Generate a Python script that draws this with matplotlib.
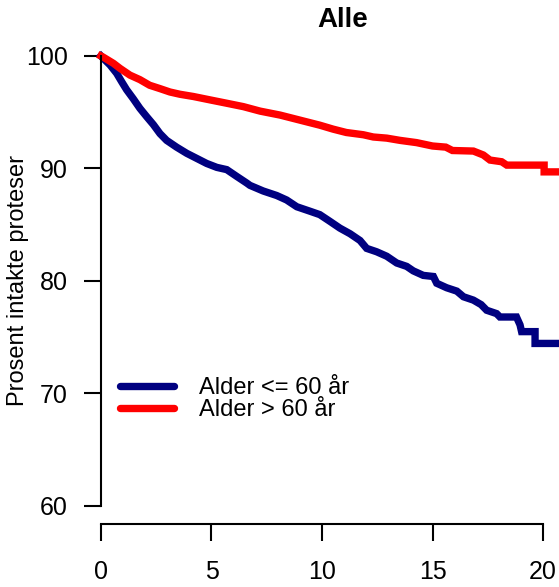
import matplotlib
matplotlib.use('Agg')
import matplotlib.pyplot as plt

plt.rcParams['font.family'] = ['Liberation Sans', 'DejaVu Sans']

# survival curves (years, percent intact)
young_t = [0, 0.1, 0.41, 0.71, 0.94, 1.16, 1.46, 1.76, 2.07, 2.37, 2.67, 2.97, 3.42,
           3.88, 4.33, 4.78, 5.24, 5.69, 6.14, 6.6, 6.74, 7.34, 7.95, 8.4, 8.86, 9.46,
           9.9, 10.36, 10.81, 11.27, 11.72, 12.02, 12.47, 12.93, 13.38, 13.83, 14.13,
           14.58, 15.04, 15.19, 15.64, 16.1, 16.4, 16.85, 17.2, 17.45, 17.9, 18.05,
           18.8, 18.96, 19.03, 19.64, 19.64, 21.0]
young_s = [100, 99.8, 99.2, 98.46, 97.7, 97.0, 96.2, 95.35, 94.6, 93.9, 93.1, 92.5, 91.9,
           91.35, 90.9, 90.45, 90.1, 89.9, 89.3, 88.7, 88.5, 88.0, 87.6, 87.2, 86.6, 86.2,
           85.9, 85.3, 84.7, 84.2, 83.6, 82.9, 82.6, 82.2, 81.6, 81.3, 80.9, 80.5,
           80.4, 79.8, 79.4, 79.1, 78.6, 78.3, 77.9, 77.4, 77.1, 76.8,
           76.8, 76.1, 75.5, 75.5, 74.45, 74.45]

old_t = [0, 0.1, 0.56, 0.86, 1.31, 1.76, 2.2, 2.67, 3.12, 3.57, 4.18, 4.93, 5.69, 6.44,
         7.2, 8.1, 9.0, 9.9, 10.5, 11.1, 11.87, 12.32, 12.93, 13.53, 14.28, 15.0, 15.6,
         15.9, 16.85, 17.3, 17.6, 18.13, 18.36, 20.05, 20.05, 21.0]
old_s = [100, 99.9, 99.35, 98.9, 98.3, 97.9, 97.4, 97.1, 96.8, 96.6, 96.4, 96.1, 95.8, 95.5,
         95.1, 94.75, 94.3, 93.85, 93.5, 93.2, 93.0, 92.8, 92.7, 92.5, 92.3, 92.0, 91.9,
         91.6, 91.55, 91.2, 90.75, 90.6, 90.3, 90.3, 89.7, 89.7]

labels = ['Alder <= 60 år', 'Alder > 60 år']
colors = ['#000080', '#ff0000']

W, H = 559, 587
fig = plt.figure(figsize=(W / 100, H / 100), dpi=100)

# plot region in pixels (R style, 4% extension)
x0, x1 = -0.8, 20.8
y0, y1 = 58.4, 101.6
px_l, px_r = 83.3, 560.7
py_t, py_b = 38.0, 524.0
ax = fig.add_axes([px_l / W, 1 - py_b / H, (px_r - px_l) / W, (py_b - py_t) / H])
ax.set_xlim(x0, x1)
ax.set_ylim(y0, y1)

ax.plot(young_t, young_s, color=colors[0], lw=5.3, label=labels[0],
        solid_joinstyle='miter', clip_on=False)
ax.plot(old_t, old_s, color=colors[1], lw=5.3, label=labels[1],
        solid_joinstyle='miter', clip_on=False)

for s in ['top', 'right']:
    ax.spines[s].set_visible(False)
ax.spines['left'].set_position(('data', 0))
ax.spines['left'].set_bounds(60, 100)
ax.spines['bottom'].set_bounds(0, 20)
for s in ['left', 'bottom']:
    ax.spines[s].set_linewidth(1.5)

ax.set_xticks([0, 5, 10, 15, 20])
ax.set_yticks([60, 70, 80, 90, 100])
ax.tick_params(axis='both', direction='out', length=12, width=1.5,
               labelsize=18)
ax.tick_params(axis='y', pad=12)
ax.tick_params(axis='x', pad=14)

fig.text(18 / W, 1 - 281 / H, 'Prosent intakte proteser', rotation=90,
         ha='center', va='center', fontsize=17)
fig.text(343 / W, 1 - 20 / H, 'Alle', ha='center', va='center',
         fontsize=20, fontweight='bold')

leg = ax.legend(loc='upper left', bbox_to_anchor=(120 / W, 1 - 377 / H),
                bbox_transform=fig.transFigure, frameon=False, fontsize=17,
                handlelength=2.3, handletextpad=1.05, labelspacing=0.0,
                borderpad=0, borderaxespad=0)
for line in leg.get_lines():
    line.set_solid_capstyle('round')

fig.savefig('out.png', dpi=100)
